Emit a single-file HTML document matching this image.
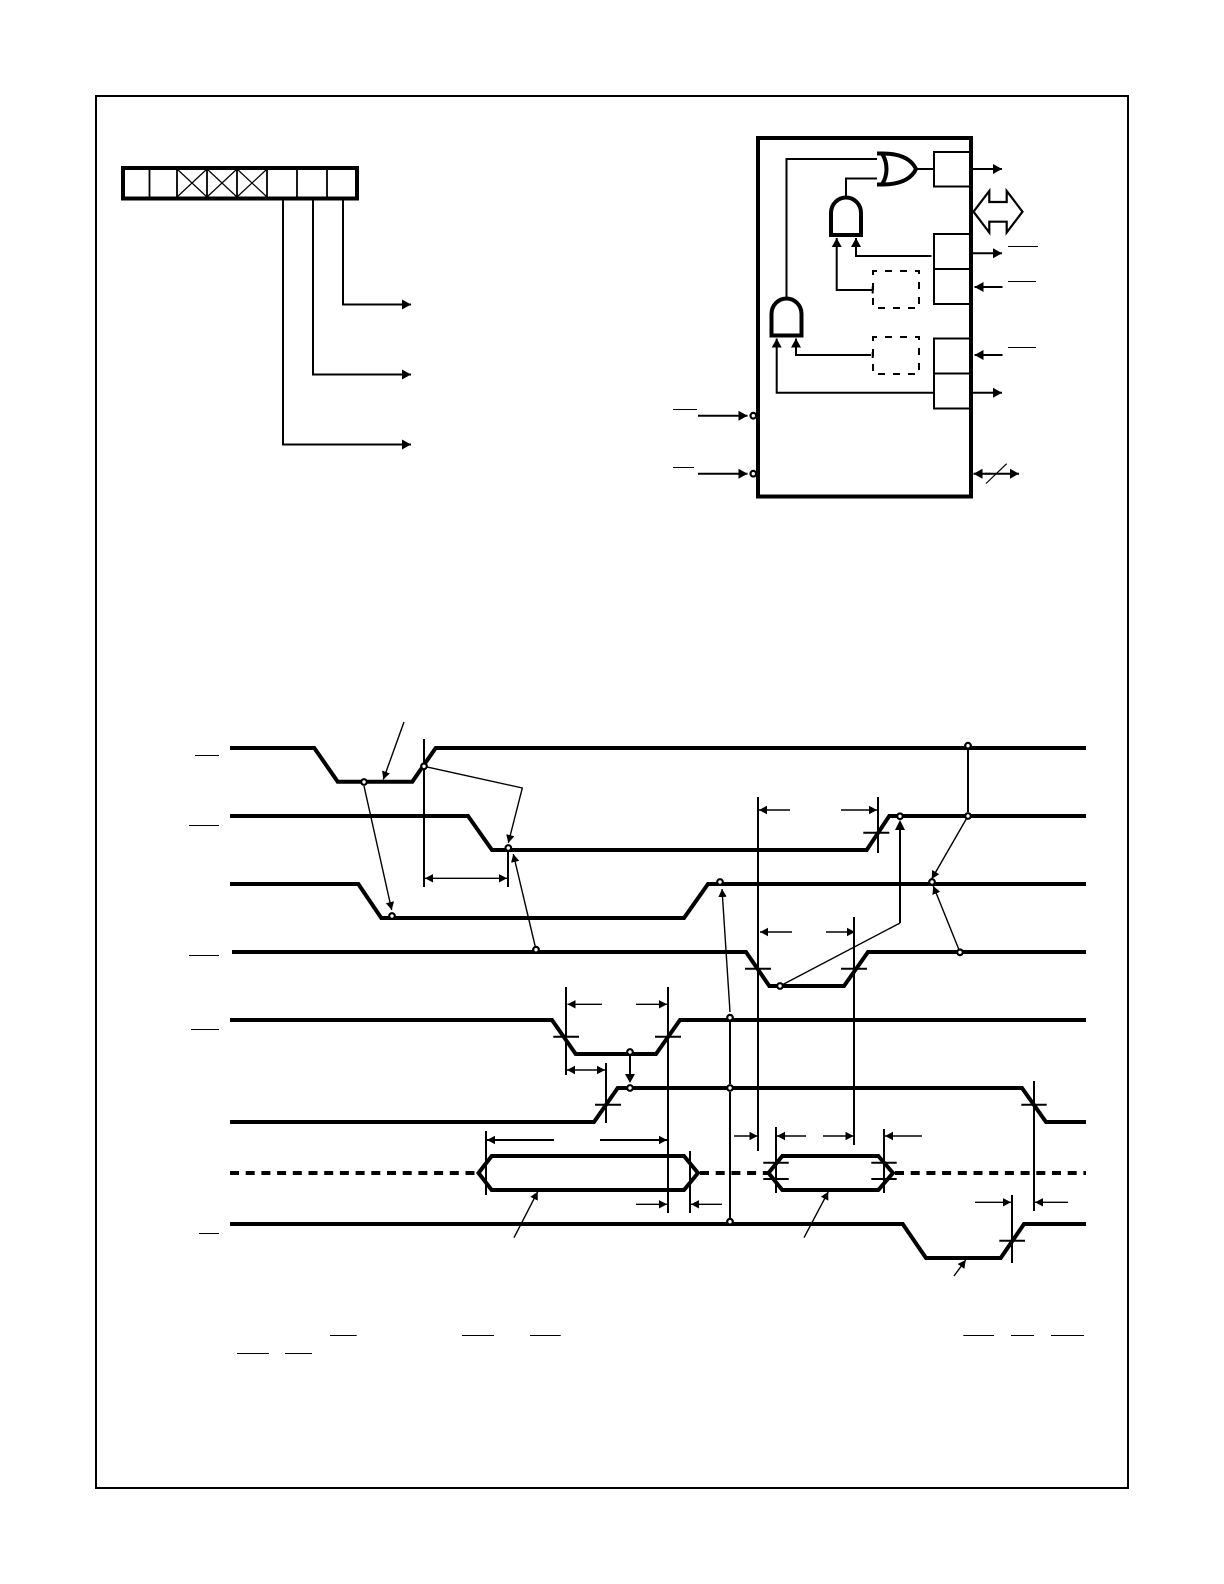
<!DOCTYPE html>
<html><head><meta charset="utf-8"><style>
html,body{margin:0;padding:0;background:#fff}
svg{display:block}
</style></head><body>
<svg xmlns="http://www.w3.org/2000/svg" width="1224" height="1584" viewBox="0 0 1224 1584">
<defs>
<marker id="a" markerUnits="userSpaceOnUse" markerWidth="10" markerHeight="11" refX="9" refY="5.5" orient="auto"><path d="M0,0.5L9,5.5L0,10.5z" fill="#000"/></marker>
<marker id="s" markerUnits="userSpaceOnUse" markerWidth="9" markerHeight="10" refX="8" refY="5" orient="auto"><path d="M0,0.8L8,5L0,9.2z" fill="#000"/></marker>
</defs>
<rect width="1224" height="1584" fill="#fff"/>
<rect x="96" y="96" width="1032" height="1392" fill="none" stroke="#000" stroke-width="2"/>

<!-- register -->
<g fill="none" stroke="#000">
<rect x="123" y="168" width="234" height="30.5" stroke-width="4"/>
<path stroke-width="1.8" d="M149.5 168V198M177 168V198M207 168V198M237 168V198M267 168V198M297 168V198M327 168V198"/>
<path stroke-width="1.2" d="M177 169L207 197M207 169L177 197M207 169L237 197M237 169L207 197M237 169L267 197M267 169L237 197"/>
<path stroke-width="2" d="M343 199V304.5H411" marker-end="url(#a)"/>
<path stroke-width="2" d="M313 199V374.5H411" marker-end="url(#a)"/>
<path stroke-width="2" d="M283 199V444.5H411" marker-end="url(#a)"/>
</g>

<!-- block diagram -->
<g fill="none" stroke="#000">
<rect x="758" y="138" width="213" height="358.5" stroke-width="4"/>
<g stroke-width="2">
<path d="M972 152H934V186.5H972M972 234H934V304H972M934 269H972M972 338.5H934V408.5H972M934 373.5H972"/>
<path d="M786.5 298V159H882M846 197V178.5H884M917 169H934"/>
<path d="M931.5 256H856V238" marker-end="url(#a)"/>
<path d="M872.5 290H836.7V238" marker-end="url(#a)"/>
<path d="M871 355H796V338.5" marker-end="url(#a)"/>
<path d="M934 392.7H776.7V338.5" marker-end="url(#a)"/>
<path d="M872.7 286.5V293.5M872.7 352V358"/>
</g>
<path d="M972 169H1002" stroke-width="2" marker-end="url(#a)"/>
<path d="M972 253.3H1002" stroke-width="2" marker-end="url(#a)"/>
<path d="M972 392.7H1002" stroke-width="2" marker-end="url(#a)"/>
<path d="M1002.5 287H974.5" stroke-width="2" marker-end="url(#a)"/>
<path d="M1002.5 355H974.5" stroke-width="2" marker-end="url(#a)"/>
<path d="M698 415.7H747.5" stroke-width="2" marker-end="url(#a)"/>
<path d="M698 473.7H747.5" stroke-width="2" marker-end="url(#a)"/>
<path d="M985 473.7H1019" stroke-width="2" marker-end="url(#a)"/>
<path d="M990 473.7H973.5" stroke-width="2" marker-end="url(#a)"/>
<path d="M986 483.5L1006.7 463.7" stroke-width="1.2"/>
<circle cx="753.3" cy="415.7" r="2.8" fill="#fff" stroke-width="2.2"/>
<circle cx="753.3" cy="473.7" r="2.8" fill="#fff" stroke-width="2.2"/>
<path d="M877 153.5H882C899 153.5 911 158.5 916 169C911 179.5 899 184.5 882 184.5H877M882 153.5C888 163 888 175 882 184.5" stroke-width="4" fill="#fff"/>
<path d="M831 235V213A15 15.5 0 0 1 861 213V235Z" stroke-width="4" fill="#fff"/>
<path d="M771.5 335.5V314A15 15.5 0 0 1 801.5 314V335.5Z" stroke-width="4" fill="#fff"/>
<rect x="873" y="271" width="46" height="37" stroke-width="2" stroke-dasharray="7 8" stroke-dashoffset="3"/>
<rect x="873" y="337" width="46" height="37" stroke-width="2" stroke-dasharray="7 8" stroke-dashoffset="3"/>
<path d="M973.5 211.7L989.3 191V202H1006.7V191L1022.5 211.7L1006.7 232.5V221.7H989.3V232.5Z" stroke-width="2.2"/>
<path stroke-width="1" d="M1008 246.5H1038M1008 281.5H1036M1008 347.5H1036M673 409.5H697M673 467.5H694"/>
</g>

<!-- timing: signals -->
<g fill="none" stroke="#000" stroke-width="4" stroke-linejoin="miter">
<path d="M230 748H314.3L337.7 781.7H412.3L435.7 748H1086"/>
<path d="M230 816H468L492 850H866.7L889.3 816H1086"/>
<path d="M230 884H358.3L381.3 918H684L708 884H1086"/>
<path d="M232 952H746L769.3 986H844L868 952H1086"/>
<path d="M230 1020H552L575.7 1054H656L680 1020H1086"/>
<path d="M230 1122H594L617.7 1088H1022L1046 1122H1086"/>
<path d="M230 1224H902.7L926 1258H1000.7L1024 1224H1086"/>
<path d="M478.5 1173L491.7 1156H684L698 1173L684 1190H491.7Z"/>
<path d="M768.5 1173L782.3 1156H878.3L893 1173L878.3 1190H782.3Z"/>
<path stroke-dasharray="9 6.7" d="M230 1173H476M700 1173H768M895 1173H1086"/>
</g>

<!-- timing: verticals & ticks -->
<g fill="none" stroke="#000" stroke-width="2">
<path d="M424 739V887M508 852V887M758 797V1151M878 797V853M854 917V1145M566 987V1075M668 987V1213M606 1063V1123M486 1131V1195M690 1151V1213M776 1127V1193M884 1129V1193M1034 1081V1211M1012 1195V1263"/>
<path d="M968 750V812M730 1022V1084M730 1092V1218"/>
<path d="M630 1056V1076"/>
<path d="M900 923V823"/>
<path d="M863.3 832.7H889.3M745 968.7H771M841 968.7H867M553.3 1036.7H579M655 1036.7H681M595 1104.7H621M763.3 1162.7H788.7M763.3 1179H788.7M871.3 1162.7H896.7M871.3 1179H896.7M1021.3 1104.7H1046.7M999.3 1240.7H1025"/>
</g>
<path d="M900 820L895 830H905Z M630 1083L625 1074H635Z" fill="#000"/>

<!-- timing: small arrows -->
<g fill="none" stroke="#000" stroke-width="1.4">
<path d="M466 878.3H425" marker-end="url(#s)"/>
<path d="M466 878.3H507" marker-end="url(#s)"/>
<path d="M790 810H759" marker-end="url(#s)"/>
<path d="M841 810H877" marker-end="url(#s)"/>
<path d="M792 932H760" marker-end="url(#s)"/>
<path d="M826 932H855" marker-end="url(#s)"/>
<path d="M602 1004.3H567.5" marker-end="url(#s)"/>
<path d="M636 1004.3H667" marker-end="url(#s)"/>
<path d="M586 1070H567" marker-end="url(#s)"/>
<path d="M586 1070H605" marker-end="url(#s)"/>
<path d="M554 1140H487" stroke-width="2" marker-end="url(#s)"/>
<path d="M600 1140H667" stroke-width="2" marker-end="url(#s)"/>
<path d="M636 1204.3H667" marker-end="url(#s)"/>
<path d="M722 1204.3H691" marker-end="url(#s)"/>
<path d="M734 1136H757.5" marker-end="url(#s)"/>
<path d="M806 1136H777" marker-end="url(#s)"/>
<path d="M823 1136H853.5" marker-end="url(#s)"/>
<path d="M922 1136H885" marker-end="url(#s)"/>
<path d="M1068 1202.3H1035" marker-end="url(#s)"/>
<path d="M975 1202.3H1011" marker-end="url(#s)"/>
<path d="M404 722L383.3 779.5" marker-end="url(#s)"/>
<path d="M364 786L391.7 910" marker-end="url(#s)"/>
<path d="M424 766.3L522.3 788L508.3 843" marker-end="url(#s)"/>
<path d="M536 949.7L513.3 854" marker-end="url(#s)"/>
<path d="M968 816L931.7 879" marker-end="url(#s)"/>
<path d="M960 952.3L933.3 886" marker-end="url(#s)"/>
<path d="M730 1012L722 889" marker-end="url(#s)"/>
<path d="M780 986L900 923"/>
<path d="M514 1237.7L537.7 1191.7" marker-end="url(#s)"/>
<path d="M804 1237.7L828.3 1191.7" marker-end="url(#s)"/>
<path d="M954 1276L965.7 1260" marker-end="url(#s)"/>
</g>

<!-- timing: circles -->
<g fill="#fff" stroke="#000" stroke-width="2.2">
<circle cx="364" cy="782" r="2.8"/>
<circle cx="392" cy="916" r="2.8"/>
<circle cx="424" cy="766.3" r="2.8"/>
<circle cx="508.3" cy="848" r="2.8"/>
<circle cx="536" cy="949.7" r="2.8"/>
<circle cx="968" cy="745.7" r="2.8"/>
<circle cx="968" cy="816" r="2.8"/>
<circle cx="932" cy="882" r="2.8"/>
<circle cx="960" cy="952.3" r="2.8"/>
<circle cx="720" cy="882" r="2.8"/>
<circle cx="900" cy="816.3" r="2.8"/>
<circle cx="780" cy="986" r="2.8"/>
<circle cx="730" cy="1017.7" r="2.8"/>
<circle cx="730" cy="1088" r="2.8"/>
<circle cx="730" cy="1221.7" r="2.8"/>
<circle cx="630" cy="1052" r="2.8"/>
<circle cx="630" cy="1088" r="2.8"/>
</g>

<!-- overbars -->
<path fill="none" stroke="#000" stroke-width="1" d="M195 755.5H219M189 825.5H219M189 955.5H219M191 1029.5H219M199 1233.5H219M330 1335.5H356.7M462 1335.5H494M530 1335.5H560.7M963.3 1335.5H994M1011 1335.5H1034M1051 1335.5H1084M237 1353.5H269M285 1353.5H312"/>
</svg>
</body></html>
